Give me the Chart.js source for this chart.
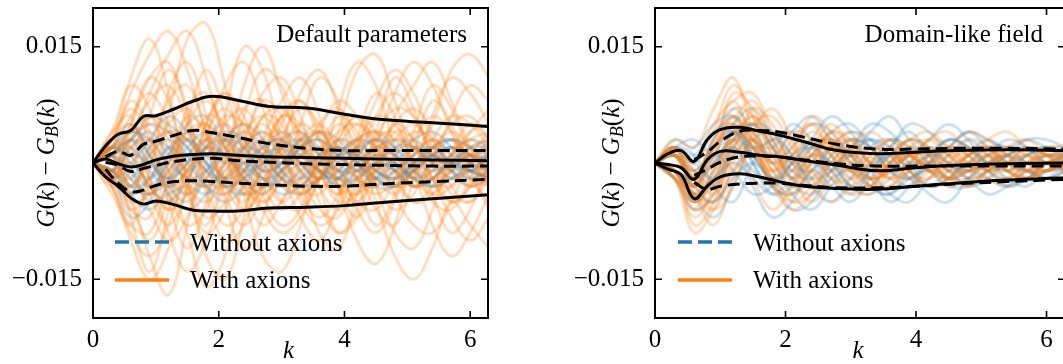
<!DOCTYPE html>
<html>
<head>
<meta charset="utf-8">
<script src="https://cdn.jsdelivr.net/npm/chart.js@4.4.1/dist/chart.umd.min.js"></script>
<style>
  body { margin: 0; background: #fff; overflow: hidden; }
  #wrapLeft { position: absolute; left: 0; top: 0; }
  #wrapRight { position: absolute; left: 540px; top: 0; }
</style>
</head>
<body>
<div id="wrapLeft"><canvas id="chartLeft" width="540" height="364"></canvas></div>
<div id="wrapRight"><canvas id="chartRight" width="525" height="364"></canvas></div>
<script>
// k grid for the individual realisations and for the percentile bands
var kSamples = [0, 0.3, 0.6, 0.9, 1.2, 1.5, 1.8, 2.1, 2.4, 2.7, 3.0, 3.3, 3.6, 3.9, 4.2, 4.5, 4.8, 5.1, 5.4, 5.7, 6.0, 6.3];
var kBands = [0, 0.2, 0.4, 0.6, 0.8, 1.0, 1.3, 1.6, 1.9, 2.3, 2.8, 3.4, 4.0, 4.6, 5.4, 6.3];
var xTicks = [0, 2, 4, 6];
var yTicks = [-15, 15];   // in units of 1e-3

// values are G(k) - G_B(k) in units of 1e-3
// Default parameters
var leftOrange = [
  [0, 3, 9, 14, 17, 12, 4, -2, 3, 9, 11, 6, -1, -4, 2, 8, 12, 9, 3, 0, 4, 7],
  [0, -3, -10, -15, -11, -3, 5, 9, 4, -4, -8, -6, 1, 6, 4, -3, -9, -11, -6, 1, 5, 3],
  [0, 4, 6, -2, -9, -14, -10, -2, 6, 12, 10, 3, -5, -9, -6, 2, 9, 13, 10, 4, -2, -5],
  [0, -2, -6, -3, 6, 16, 18, 10, 1, -5, -2, 5, 11, 8, 0, -6, -8, -2, 6, 11, 9, 5],
  [0, 2, -4, -12, -17, -8, 3, 10, 13, 7, -1, -7, -10, -5, 3, 9, 6, -1, -8, -12, -9, -4],
  [0, -1, 5, 11, 8, -2, -12, -15, -7, 3, 8, 11, 6, -3, -10, -13, -8, 1, 8, 5, -1, -6],
  [0, 3, 11, 16, 9, -3, -8, 0, 10, 15, 9, 2, -2, 4, 12, 14, 8, 2, 5, 12, 14, 11],
  [0, -4, -8, -1, 9, 13, 6, -5, -11, -7, 2, 9, 12, 7, -2, -8, -4, 4, 10, 7, 1, -3],
  [0, 1, -7, -14, -6, 5, 12, 6, -4, -12, -14, -8, 0, 5, 2, -5, -12, -15, -11, -5, -8, -11],
  [0, 2, 8, 4, -5, -11, -5, 6, 15, 12, 3, -4, -1, 7, 13, 10, 2, -3, 0, 6, 10, 8],
  [0, -2, 3, 9, 14, 17, 11, 2, -6, -3, 5, 8, 4, -3, -7, -2, 6, 10, 13, 8, 2, -2],
  [0, 1, -5, -10, -4, 7, 9, 3, -3, -8, -5, 1, 4, 0, -6, -9, -5, 2, -2, -7, -10, -7],
  [0, -3, -1, 6, 12, 7, -4, -10, -8, 0, 6, 4, -3, -9, -7, 0, 5, 3, -4, -9, -6, 0],
  [0, 4, 10, 7, -1, -9, -16, -12, -2, 6, 5, -2, -9, -11, -4, 4, 11, 7, 0, -5, -3, 2],
  [0, 2, 4, 6, 3, -1, -3, 0, 4, 6, 3, -1, -3, -1, 2, 4, 3, 0, -2, -1, 2, 3],
  [0, -2, -5, -4, 0, 4, 5, 2, -3, -5, -2, 2, 4, 2, -2, -4, -2, 1, 3, 1, -2, -3],
  [0, 1, 3, -2, -6, -4, 2, 6, 5, 0, -5, -6, -2, 3, 6, 4, -1, -5, -4, 0, 3, 4],
  [0, -1, -3, 1, 5, 7, 3, -3, -6, -3, 2, 5, 3, -2, -4, -1, 3, 5, 2, -3, -5, -2],
  [0, 2, 6, 9, 5, -2, -7, -5, 1, 6, 7, 3, -3, -6, -3, 3, 7, 6, 1, -4, -5, -1],
  [0, -2, -4, 2, 8, 10, 4, -4, -8, -4, 3, 7, 5, -1, -5, -6, -2, 3, 6, 4, 0, -3],
  [0, 3, 7, 3, -4, -8, -6, 1, 7, 8, 2, -4, -7, -4, 2, 6, 5, 0, -5, -6, -2, 2],
  [0, -3, -8, -9, -2, 5, 8, 4, -2, -6, -5, 0, 5, 7, 3, -3, -6, -4, 1, 5, 6, 3],
  [0, 1, 4, 8, 10, 5, -3, -8, -6, 1, 6, 5, -1, -5, -4, 1, 5, 7, 4, -1, -3, -1],
  [0, -1, -6, -7, 0, 6, 4, -2, -5, 0, 6, 8, 3, -3, -5, -1, 4, 3, -2, -5, -3, 1],
  [0, 2, 2, -4, -8, -3, 5, 9, 6, -1, -5, -2, 4, 8, 6, 1, -3, -1, 3, 6, 5, 2],
  [0, -2, 1, 6, 4, -4, -9, -6, 2, 8, 6, -1, -6, -7, -2, 3, 4, 0, -4, -3, 1, 4],
  [0, 3, 5, 1, -3, -1, 4, 7, 3, -3, -6, -4, 1, 4, 5, 2, -2, -5, -3, 1, 4, 5],
  [0, -1, -2, -6, -10, -7, 0, 5, 7, 3, -2, -4, -2, 2, 5, 3, -1, -3, -1, 2, 1, -2],
  [0, 1, 5, 11, 13, 6, -2, -3, 2, 5, 1, -5, -8, -6, 0, 6, 9, 6, 1, -2, 0, 3],
  [0, -3, -9, -12, -8, 0, 6, 5, -1, -6, -9, -7, -2, 3, 6, 2, -4, -8, -9, -5, 0, 3],
  [0, 2, -1, -4, -1, 3, 5, 1, -3, -2, 2, 4, 1, -3, -4, 0, 3, 2, -2, -3, 0, 2],
  [0, -1, 3, 5, 2, -3, -5, -2, 2, 4, 1, -3, -4, 0, 3, 4, 0, -3, -2, 1, 3, 1],
  [0, 3, 1, -3, -5, -1, 3, 2, -2, -4, -1, 3, 5, 2, -2, -3, 1, 4, 3, -1, -3, -2],
  [0, -2, 2, 3, -1, -4, -2, 3, 5, 2, -2, -3, 0, 3, 1, -2, -4, -1, 2, 4, 2, -1],
  [0, 1, -3, 0, 4, 3, -1, -4, -1, 3, 4, 0, -2, 1, 3, 0, -3, -2, 2, 3, 0, -2],
  [0, -2, 0, -3, -6, -2, 2, 0, -4, -3, 1, 2, -1, -4, -2, 2, 1, -2, -4, -1, 1, -1]
];
var leftBlue = [
  [0, 1, 3, 5, 4, 2, -1, -2, 0, 2, 3, 1, -1, -2, 0, 2, 3, 2, 0, -1, 0, 1],
  [0, -1, -4, -6, -3, 0, 2, 1, -2, -3, -1, 1, 2, 0, -2, -3, -1, 1, 2, 0, -1, -2],
  [0, 2, 1, -3, -5, -2, 2, 4, 3, 0, -3, -4, -2, 1, 3, 2, -1, -3, -2, 0, 2, 2],
  [0, -2, -7, -5, 1, 5, 6, 2, -2, -4, -1, 2, 4, 3, 0, -2, -3, -1, 1, 3, 2, 0],
  [0, 1, 4, 2, -2, -4, -1, 3, 5, 3, -1, -3, -2, 1, 3, 4, 2, -1, -3, -2, 0, 1],
  [0, -1, 0, 3, 6, 4, 0, -3, -4, -1, 2, 3, 1, -1, -3, -2, 1, 3, 4, 2, -1, -2],
  [0, 2, 5, 1, -4, -6, -4, 0, 2, 1, -2, -3, 0, 3, 2, -1, -2, 0, 2, 3, 1, -1],
  [0, -2, -3, 1, 3, 1, -3, -5, -3, 1, 4, 2, -1, -2, 1, 3, 1, -2, -3, -1, 1, 0],
  [0, 1, 2, -1, -3, -1, 2, 3, 1, -2, -3, -1, 1, 2, 1, -1, -2, -1, 1, 2, 1, -1],
  [0, -1, -2, 2, 4, 2, -1, -3, -2, 1, 2, 2, 0, -2, -2, 0, 2, 2, 0, -2, -1, 1],
  [0, 2, 4, 3, 0, -2, -3, -1, 2, 4, 2, -1, -3, -2, 1, 3, 2, 0, -1, 0, 2, 3],
  [0, -1, -3, -4, -1, 2, 4, 3, 0, -2, -1, 2, 3, 1, -1, -2, 0, 2, 1, -1, -3, -2],
  [0, 1, -2, -4, -2, 1, 0, -2, -4, -3, 0, 1, -1, -3, -2, 0, -1, -3, -2, 0, -1, -2],
  [0, 2, 3, 6, 5, 3, 1, 2, 4, 2, 0, 2, 3, 1, 2, 3, 1, 0, 2, 3, 2, 1],
  [0, -1, 1, 0, -2, 1, 3, 1, -1, 0, 2, 0, -2, 0, 1, -1, -2, 0, 1, 0, -1, 0],
  [0, 1, -1, -5, -4, -3, -4, -2, 0, -2, -4, -3, -1, -2, -3, -1, 0, -2, -3, -2, -1, -2],
  [0, 2, 1, 3, 2, -1, 1, 3, 2, -1, 0, 3, 2, -1, -1, 1, 0, -2, 0, 2, 1, 0],
  [0, -2, -1, -3, 0, 3, 1, -2, -1, 2, 3, 0, -2, -1, 2, 1, -1, -1, 1, 2, 0, -1],
  [0, 1, 3, 0, -2, 0, 3, 5, 2, -1, 0, 3, 4, 1, -1, 0, 2, 3, 1, 0, 1, 2],
  [0, -1, -4, -2, 2, 0, -3, -4, -1, 1, -1, -3, -2, 1, 1, -2, -3, -1, 1, -1, -2, -1],
  [0, 2, 0, -2, 1, 4, 2, 0, 1, 3, 1, -2, 0, 2, 0, -2, -1, 1, 3, 1, -1, 1],
  [0, -1, 2, 4, 1, -2, -1, 1, -1, -3, -2, 0, -1, -3, -1, 1, 0, -2, -1, 1, 0, -1],
  [0, 1, -3, -2, 2, 3, 0, -3, -2, 0, 3, 4, 1, -1, 0, 2, 1, -1, -2, 1, 3, 2],
  [0, -1, 3, 1, -3, -5, -2, 1, 3, 1, -2, -2, 1, 2, 0, -3, -3, 0, 2, 0, -2, -1]
];
var leftSolid = [
  [0, 2.2, 3.7, 4.2, 6.0, 6.1, 7.0, 8.0, 8.6, 8.1, 7.3, 7.1, 6.3, 5.6, 5.2, 4.7],
  [0, 0.5, -0.1, -0.5, -0.2, 0.4, 0.9, 1.1, 1.2, 1.0, 0.8, 0.7, 0.6, 0.5, 0.4, 0.3],
  [0, -1.8, -3.0, -4.5, -5.3, -4.9, -5.4, -6.1, -6.2, -6.2, -5.8, -5.7, -5.5, -5.1, -4.6, -4.1]
];
var leftDashed = [
  [null, 0.8, 1.5, 1.0, 2.4, 2.8, 3.6, 4.2, 3.9, 3.3, 2.5, 1.9, 1.6, 1.6, 1.6, 1.6],
  [null, 0.1, -0.3, -1.1, -0.7, -0.3, 0.2, 0.5, 0.6, 0.3, 0.1, -0.1, -0.2, -0.3, -0.4, -0.4],
  [null, -0.8, -2.6, -3.7, -3.5, -2.9, -2.4, -2.3, -2.4, -2.6, -2.8, -3.0, -3.0, -2.7, -2.4, -2.1]
];

// Domain-like field
var rightOrange = [
  [0, 2, -3, 4, 10, 6, -1, 2, 5, 3, -1, 1, 3, 2, 0, 2, 4, 3, 1, 0, 2, 2],
  [0, -2, -7, -3, 5, 8, 3, -2, 0, 4, 2, -2, -3, 0, 2, 1, -1, 0, 2, 1, -1, 0],
  [0, 1, -4, -8, -2, 3, -1, -5, -4, 0, 2, 0, -2, -3, -1, 1, 0, -2, -3, -1, 0, -1],
  [0, 3, 2, 7, 11, 4, -2, 1, 6, 4, 0, -2, 1, 3, 4, 2, 1, 3, 4, 2, 1, 2],
  [0, -1, -5, -1, 3, -2, -6, -3, 1, -1, -4, -3, 0, 1, -1, -3, -2, 0, -1, -2, -1, 0],
  [0, 2, 0, 5, 8, 9, 4, 0, -3, -1, 2, 4, 2, -1, -2, 0, 3, 2, -1, -2, 0, 1],
  [0, -2, -6, 0, 6, 2, -3, -6, -4, 1, 3, 1, -1, 0, 3, 4, 1, -1, 0, 2, 1, -1],
  [0, 1, -2, -6, -3, 4, 7, 3, -2, -5, -3, 0, 2, -1, -3, -2, 1, 2, -1, -2, -1, 0],
  [0, -1, -3, 2, 5, 1, -1, 3, 5, 1, -3, -4, -1, 2, 1, -1, -3, -1, 2, 3, 1, -1],
  [0, 2, -1, -4, 1, 7, 5, 0, 2, 5, 2, -1, 0, 3, 1, -2, -1, 1, 0, -1, 1, 1],
  [0, 1, -5, -2, 4, 5, 1, -3, -1, 2, 3, 0, -2, -1, 1, 2, 0, -1, 0, 1, 0, 0],
  [0, -1, -8, -5, 2, 6, 2, -1, 3, 2, -2, -3, 0, 2, 0, -2, -1, 1, 2, 0, -1, 1],
  [0, 2, -2, 1, 6, 3, -3, -4, 0, 3, 1, -2, -1, 1, 2, 0, -2, -1, 1, 2, 1, -1],
  [0, -2, -4, -6, 0, 5, 6, 2, -1, -3, 0, 2, 1, -2, -2, 1, 2, 0, -2, -1, 1, 0],
  [0, 1, -1, 3, 8, 3, 0, 4, 3, -2, -2, 1, 3, 1, -1, -1, 1, 2, 0, -2, 0, 1],
  [0, -1, -6, -4, 1, 2, -2, -4, -2, 2, 4, 2, -1, -2, 0, 2, 1, -1, -2, 0, 2, 1],
  [0, 2, -3, -5, 2, 4, 0, 1, 4, 2, -1, -2, 0, 1, -1, -2, 0, 2, 1, -1, -1, 0],
  [0, -1, -4, 1, 7, 6, 1, -2, -5, -2, 1, 0, -2, 0, 3, 2, -1, -2, 0, 1, 0, -1],
  [0, 1, -3, 2, 5, 2, -1, 1, 3, 1, -1, 0, 2, 1, -1, 0, 2, 1, -1, 0, 1, 1],
  [0, -1, -5, -1, 3, 3, -1, -3, 0, 2, 0, -2, -1, 1, 1, -1, -1, 0, 1, 0, -1, 0],
  [0, 2, -1, 2, 9, 7, 2, -1, 1, 4, 3, 0, -1, 2, 3, 1, 0, 1, 2, 1, 0, 1],
  [0, -2, -9, -6, -1, 1, -3, -5, -3, 0, -1, -3, -3, -1, 0, -2, -3, -1, 0, -1, -2, -1],
  [0, 1, -2, -3, 3, 6, 3, 0, 1, 3, 1, -1, 1, 3, 2, 0, 1, 2, 0, -1, 0, 1],
  [0, -1, -4, -3, 4, 4, 0, -2, 2, 3, -1, -3, -1, 1, -1, -2, 0, 1, -1, -2, 0, 0]
];
var rightBlue = [
  [0, 2, -2, 3, 7, 4, 1, 4, 6, 3, 1, 4, 6, 3, 1, 2, 4, 3, 2, 3, 2, 1],
  [0, -1, -5, -2, 2, -3, -7, -5, -1, -3, -5, -2, 1, -1, -4, -5, -2, 0, -2, -3, -1, 0],
  [0, 2, 1, -3, -5, 0, 3, 1, -3, -5, -2, 2, 3, 0, -3, -2, 1, 3, 1, -2, -2, 0],
  [0, -2, -6, -4, 3, 5, 2, -2, 1, 4, 5, 2, -1, -3, 0, 3, 2, 0, -1, 1, 2, 1],
  [0, 1, -3, 1, 4, 2, -2, -6, -5, -1, 1, -1, -4, -5, -2, 0, -2, -4, -3, -1, -2, -2],
  [0, 3, 2, 5, 6, 1, -2, 0, 3, 6, 4, 0, 2, 5, 4, 1, -1, 1, 3, 2, 0, 1],
  [0, -1, -4, -7, -3, 2, 0, -4, -6, -3, 0, -2, -5, -3, 0, -1, -3, -2, 0, -1, -2, -1],
  [0, 1, -1, 2, 5, 7, 3, -1, -2, 1, 3, 2, 0, 1, 3, 5, 3, 0, 1, 3, 3, 2],
  [0, 1, -2, 0, 3, 1, -2, -1, 2, 3, 0, -2, -1, 1, 2, 0, -1, 0, 1, 0, -1, 0],
  [0, -1, -3, -5, -1, 3, 4, 1, -2, -1, 2, 3, 1, -2, -3, -1, 1, 2, 0, -1, 0, 1],
  [0, 2, 3, 1, 3, 5, 2, -2, -3, 0, 3, 2, -1, -2, 1, 3, 2, -1, -2, 0, 1, 0],
  [0, -1, -4, -2, 0, -2, -4, -2, 1, 0, -3, -4, -2, 0, -1, -3, -3, -1, 0, -1, -2, -1],
  [0, 1, -1, -3, 1, 3, 0, 2, 5, 4, 1, -1, 1, 3, 2, -1, 0, 2, 2, 0, 1, 1],
  [0, -2, -5, -1, 4, 2, -3, -4, -1, 2, 1, -3, -4, -1, 1, 0, -2, -1, 1, 2, 0, -1],
  [0, 2, 0, 4, 5, 0, -4, -3, 0, -2, -4, -1, 2, 4, 1, -2, -1, 1, -1, -2, 0, 0],
  [0, -1, -2, 3, 6, 3, 2, 5, 3, 0, 2, 5, 4, 1, 0, 2, 4, 2, 0, 1, 2, 2],
  [0, 1, -2, 2, 4, 0, -3, 0, 3, 1, -2, 0, 3, 2, -1, 1, 3, 1, -1, 1, 2, 0],
  [0, -1, -3, 0, 2, -1, -2, 1, 2, -1, -3, -1, 1, -1, -3, -2, 0, -1, -3, -2, 0, -1],
  [0, 2, 1, 4, 4, 2, 3, 4, 1, -1, 1, 3, 2, 0, 1, 3, 2, 0, 1, 2, 1, 1],
  [0, -2, -4, -5, -2, 0, -2, -3, -4, -2, -1, -3, -4, -2, -1, -2, -1, -2, -3, -2, -1, -1],
  [0, 1, 0, -2, 2, 5, 4, 0, -1, 2, 4, 3, 0, -2, 0, 2, 1, -1, 0, 2, 1, 0],
  [0, -1, -2, 1, -1, -4, -3, 0, 2, 0, -3, -3, 0, 2, 0, -2, -2, 0, 1, -1, -1, 0]
];
var rightSolid = [
  [0, 1.2, 1.6, 0.2, 3.0, 4.3, 4.6, 4.1, 3.6, 2.7, 1.6, 1.2, 1.4, 1.6, 1.7, 1.6],
  [0, -0.2, -0.6, -2.1, 0.4, 1.5, 1.4, 1.0, 0.8, 0.3, -0.3, -1.0, -0.6, -0.3, -0.1, 0],
  [0, -0.8, -1.5, -4.6, -3.0, -1.8, -1.4, -1.8, -2.4, -3.0, -3.3, -3.4, -3.0, -2.6, -2.2, -1.9]
];
var rightDashed = [
  [null, null, null, 0.4, 1.4, 2.8, 4.1, 4.2, 4.0, 3.3, 2.4, 1.8, 1.8, 1.9, 1.9, 1.8],
  [null, null, null, -1.6, -0.8, 0.1, 0.8, 0.9, 0.8, 0.4, -0.1, -0.4, -0.4, -0.4, -0.4, -0.4],
  [null, null, null, -2.5, -3.4, -3.0, -2.7, -2.6, -2.6, -2.9, -3.2, -3.2, -3.0, -2.7, -2.4, -2.1]
];

var serif = '"Liberation Serif", "Times New Roman", serif';
var orangeLine = 'rgba(255, 127, 14, 0.25)';
var blueLine = 'rgba(31, 119, 180, 0.22)';

function toPoints(ks, vals) {
  return vals.map(function (v, i) { return { x: ks[i], y: v }; });
}

function buildDatasets(blue, orange, solid, dashed) {
  var sets = [];
  solid.forEach(function (vals) {
    sets.push({ data: toPoints(kBands, vals), borderColor: '#000', borderWidth: 3, order: 0 });
  });
  dashed.forEach(function (vals) {
    sets.push({ data: toPoints(kBands, vals), borderColor: '#000', borderWidth: 3, borderDash: [12, 6], order: 0 });
  });
  orange.forEach(function (vals) {
    sets.push({ data: toPoints(kSamples, vals), borderColor: orangeLine, borderWidth: 3, order: 1 });
  });
  blue.forEach(function (vals) {
    sets.push({ data: toPoints(kSamples, vals), borderColor: blueLine, borderWidth: 3, order: 2 });
  });
  return sets;
}

// G(k) - G_B(k), drawn piece by piece so the B can sit as a subscript
var yLabelParts = [
  { t: 'G', it: true }, { t: '(' }, { t: 'k', it: true }, { t: ')' }, { t: ' \u2212 ' },
  { t: 'G', it: true }, { t: 'B', it: true, sub: true }, { t: '(' }, { t: 'k', it: true }, { t: ')' }
];

function drawParts(ctx, parts, cx, cy, size) {
  var total = 0;
  parts.forEach(function (p) {
    ctx.font = (p.it ? 'italic ' : '') + Math.round(p.sub ? size * 0.7 : size) + 'px ' + serif;
    p.w = ctx.measureText(p.t).width;
    total += p.w;
  });
  var x = cx - total / 2;
  parts.forEach(function (p) {
    ctx.font = (p.it ? 'italic ' : '') + Math.round(p.sub ? size * 0.7 : size) + 'px ' + serif;
    ctx.fillText(p.t, x, cy + (p.sub ? size * 0.25 : 0));
    x += p.w;
  });
}

var panelPlugin = {
  id: 'panel',
  afterDraw: function (chart) {
    var ctx = chart.ctx, a = chart.chartArea;
    var xs = chart.scales.x, ys = chart.scales.y;
    var opt = chart.options.plugins.panel;
    ctx.save();
    ctx.strokeStyle = '#000';
    ctx.fillStyle = '#000';

    // frame
    ctx.lineWidth = 2;
    ctx.strokeRect(a.left, a.top, a.right - a.left, a.bottom - a.top);

    // inward ticks on all four sides
    ctx.lineWidth = 1.6;
    ctx.beginPath();
    xTicks.forEach(function (v) {
      var px = xs.getPixelForValue(v);
      ctx.moveTo(px, a.bottom); ctx.lineTo(px, a.bottom - 7);
      ctx.moveTo(px, a.top); ctx.lineTo(px, a.top + 7);
    });
    yTicks.forEach(function (v) {
      var py = ys.getPixelForValue(v);
      ctx.moveTo(a.left, py); ctx.lineTo(a.left + 7, py);
      ctx.moveTo(a.right, py); ctx.lineTo(a.right - 7, py);
    });
    ctx.stroke();

    // panel title
    ctx.font = '25px ' + serif;
    ctx.textAlign = 'right';
    ctx.textBaseline = 'alphabetic';
    ctx.fillText(opt.title, a.right - opt.titleRight, a.top + 34);

    // legend
    ctx.lineWidth = 3.5;
    ctx.strokeStyle = '#1f77b4';
    ctx.setLineDash([14, 6]);
    ctx.beginPath();
    ctx.moveTo(a.left + opt.legendX, a.top + 234);
    ctx.lineTo(a.left + opt.legendX + 54, a.top + 234);
    ctx.stroke();
    ctx.setLineDash([]);
    ctx.strokeStyle = '#ff7f0e';
    ctx.beginPath();
    ctx.moveTo(a.left + opt.legendX, a.top + 272);
    ctx.lineTo(a.left + opt.legendX + 54, a.top + 272);
    ctx.stroke();
    ctx.textAlign = 'left';
    ctx.fillText('Without axions', a.left + opt.legendX + 75, a.top + 243);
    ctx.fillText('With axions', a.left + opt.legendX + 75, a.top + 280);

    // x label
    ctx.font = 'italic 25px ' + serif;
    ctx.textAlign = 'center';
    ctx.fillText('k', (a.left + a.right) / 2 - 2, 358);

    // y label
    ctx.textAlign = 'left';
    ctx.textBaseline = 'middle';
    ctx.translate(a.left - opt.yLabelGap, (a.top + a.bottom) / 2);
    ctx.rotate(-Math.PI / 2);
    drawParts(ctx, yLabelParts, 0, 0, 25);
    ctx.restore();
  }
};

function makeChart(id, datasets, plotLeft, padRight, panelOpts) {
  return new Chart(id, {
    type: 'line',
    data: { datasets: datasets },
    options: {
      responsive: false,
      animation: false,
      devicePixelRatio: 1,
      layout: { padding: { left: 0, right: padRight, top: 8, bottom: 0 } },
      elements: {
        line: { tension: 0.4, fill: false },
        point: { radius: 0 }
      },
      scales: {
        x: {
          type: 'linear',
          min: 0,
          max: 2 * Math.PI,
          afterBuildTicks: function (scale) {
            scale.ticks = xTicks.map(function (v) { return { value: v }; });
          },
          afterFit: function (scale) {
            scale.height = 46;
            scale.paddingLeft = 0;
            scale.paddingRight = 0;
          },
          grid: { display: false, drawTicks: false },
          border: { display: false },
          ticks: {
            color: '#000',
            padding: 7,
            maxRotation: 0,
            font: { family: serif, size: 25 },
            callback: function (v) { return String(v); }
          }
        },
        y: {
          min: -20,
          max: 20,
          afterBuildTicks: function (scale) {
            scale.ticks = yTicks.map(function (v) { return { value: v }; });
          },
          afterFit: function (scale) {
            scale.width = plotLeft;
            scale.paddingTop = 0;
            scale.paddingBottom = 0;
          },
          grid: { display: false, drawTicks: false },
          border: { display: false },
          ticks: {
            color: '#000',
            padding: 11,
            font: { family: serif, size: 25 },
            callback: function (v) { return (v / 1000).toFixed(3).replace('-', '\u2212'); }
          }
        }
      },
      plugins: {
        legend: { display: false },
        tooltip: { enabled: false },
        panel: panelOpts
      }
    },
    plugins: [panelPlugin]
  });
}

makeChart('chartLeft', buildDatasets(leftBlue, leftOrange, leftSolid, leftDashed), 93, 52,
  { title: 'Default parameters', titleRight: 21, legendX: 22, yLabelGap: 46 });
makeChart('chartRight', buildDatasets(rightBlue, rightOrange, rightSolid, rightDashed), 115, 0,
  { title: 'Domain-like field', titleRight: 22, legendX: 23, yLabelGap: 43 });
</script>
</body>
</html>
